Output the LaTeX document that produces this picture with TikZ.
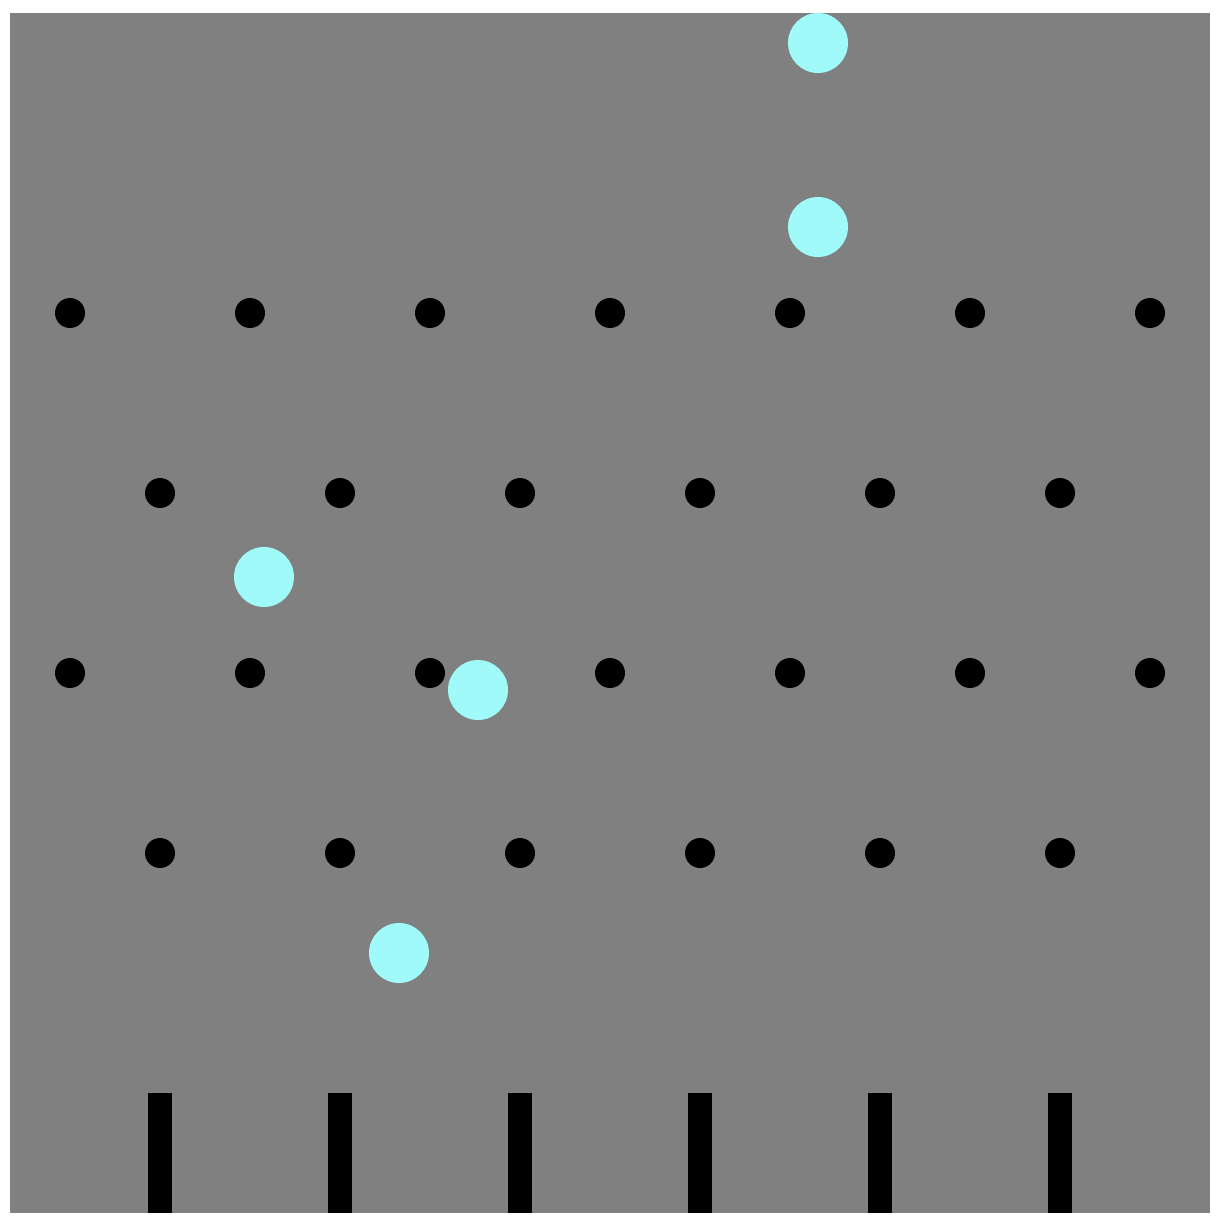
\documentclass[tikz,border=0pt]{standalone}
\definecolor{bg}{RGB}{128,128,128}
\definecolor{ballc}{RGB}{160,250,250}
\tikzset{
  peg/.style={circle, fill=black, inner sep=0pt, minimum size=30pt},
  ball/.style={circle, fill=ballc, inner sep=0pt, minimum size=60pt},
  bin/.style={fill=black, inner sep=0pt, minimum width=24pt, minimum height=120pt, anchor=north}
}
\begin{document}
\begin{tikzpicture}[x=1pt,y=-1pt]
\useasboundingbox (0,0) rectangle (1222,1228);
\begin{scope}
\clip (10,13) rectangle (1210,1213);
\fill[bg] (10,13) rectangle (1210,1213);
% pegs
\foreach \r/\y in {1/313,3/673}{
  \foreach \i in {0,...,6}{
    \node[peg] (p\r-\i) at ({70+180*\i},\y) {};
  }
}
\foreach \r/\y in {2/493,4/853}{
  \foreach \i in {0,...,5}{
    \node[peg] (p\r-\i) at ({160+180*\i},\y) {};
  }
}
% bins
\foreach \i in {0,...,5}{
  \node[bin] (b\i) at ({160+180*\i},1093) {};
}
% balls
\node[ball] (ball1) at (818,43) {};
\node[ball] (ball2) at (818,227) {};
\node[ball] (ball3) at (264,577) {};
\node[ball] (ball4) at (478,690) {};
\node[ball] (ball5) at (399,953) {};
\end{scope}
\end{tikzpicture}
\end{document}
